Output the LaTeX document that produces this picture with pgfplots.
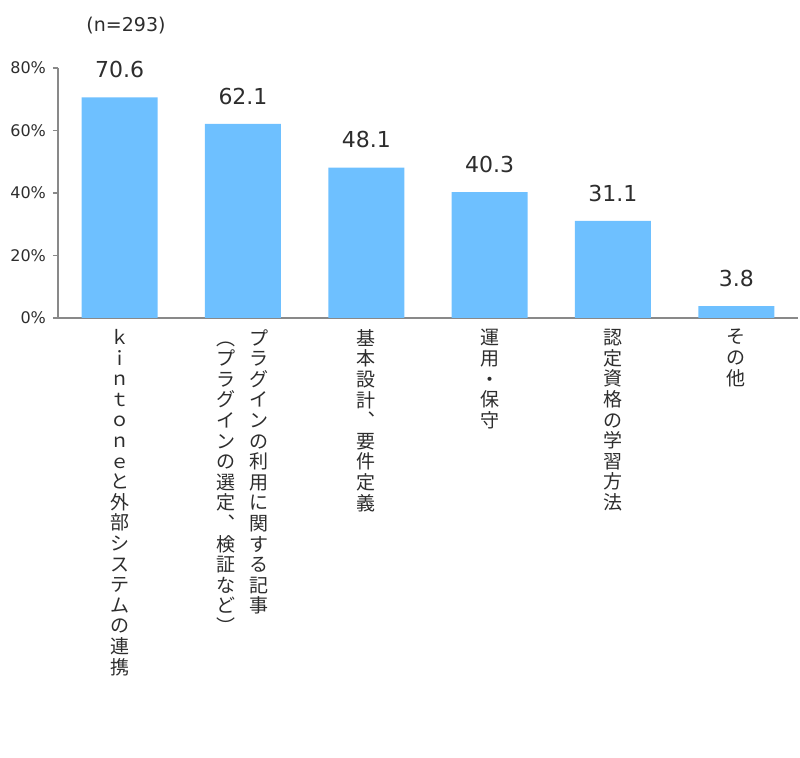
\documentclass[border=0pt]{standalone}
\usepackage{pgfplots}
\pgfplotsset{compat=1.18}
\usepackage{fontspec}
\setmainfont{DejaVu Sans}
\newfontfamily\cjk{Noto Sans CJK JP}

\definecolor{barblue}{RGB}{110,192,255}
\definecolor{axisgray}{RGB}{137,137,137}
\definecolor{txt}{RGB}{45,45,45}

% stack the characters of a label one below the other (vertical writing)
\ExplSyntaxOn
\NewDocumentCommand\vcol{m}
 {
  \vtop
   {
    \tl_map_inline:nn {#1}
     { \hbox_to_wd:nn {1em} { \hss ##1 \hss } }
   }
 }
\ExplSyntaxOff

\begin{document}
\begin{tikzpicture}
\path[use as bounding box] (-29pt,-220pt) rectangle (371pt,159pt);
\begin{axis}[
  at={(0,0)}, anchor=south west,
  width=370pt, height=125pt, scale only axis,
  ybar, bar width=38pt,
  xmin=-0.5, xmax=5.5, ymin=0, ymax=80,
  axis x line*=bottom, axis y line*=left,
  axis line style={axisgray, line width=0.75pt},
  xtick={0,...,5},
  xticklabels={
    {\vcol{ｋｉｎｔｏｎｅと外部システムの連携}},
    {\vcol{︵プラグインの選定︑検証など︶}\hspace{7pt}\vcol{プラグインの利用に関する記事}},
    {\vcol{基本設計︑要件定義}},
    {\vcol{運用・保守}},
    {\vcol{認定資格の学習方法}},
    {\vcol{その他}}
  },
  x tick style={draw=none},
  ytick={0,20,40,60,80},
  y tick style={axisgray, line width=0.75pt},
  tick align=outside, major tick length=2.5pt,
  yticklabel={\pgfmathprintnumber{\tick}\%},
  /pgf/number format/assume math mode=true,
  y tick label style={font=\fontsize{8}{9.6}\selectfont, text=txt},
  x tick label style={font=\cjk\fontsize{9.5}{10.3}\selectfont, text=txt,
    anchor=north, inner sep=0pt, yshift=-3pt},
  nodes near coords={\pgfmathprintnumber[fixed,fixed zerofill,precision=1]{\pgfplotspointmeta}},
  every node near coord/.append style={font=\fontsize{11}{13}\selectfont,
    text=txt, anchor=south, inner sep=0pt, yshift=9.5pt},
  clip=false,
]
\addplot[fill=barblue, draw=none] coordinates {
  (0,70.6) (1,62.1) (2,48.1) (3,40.3) (4,31.1) (5,3.8)
};
\end{axis}
\node[font=\fontsize{9.5}{11}\selectfont, text=txt] at (34pt,146pt) {(n=293)};
\end{tikzpicture}
\end{document}
